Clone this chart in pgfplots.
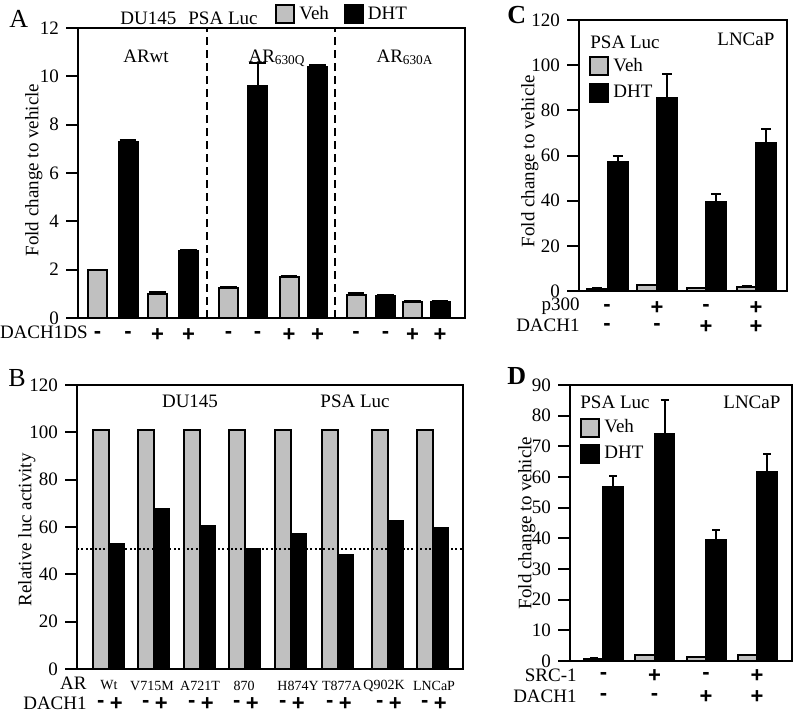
\documentclass[border=0pt]{standalone}
\usepackage{pgfplots}
\pgfplotsset{compat=1.18}
\usepackage{fontspec}
\setmainfont{Liberation Serif}
\newfontfamily\signfont{Liberation Sans}
\newcommand{\sgn}[1]{{\signfont\bfseries\fontsize{11}{12}\selectfont #1}}
\newcommand{\fs}{\fontsize{9.5}{11}\selectfont}
\definecolor{vehgray}{RGB}{192,192,192}

\pgfplotsset{
 panel/.style={
  scale only axis, anchor=south west,
  font=\fs,
  axis line style={line width=1pt},
  tick align=outside, major tick length=6pt,
  every tick/.style={black, line width=1pt},
  xtick style={draw=none},
  ytick pos=left,
  /pgf/number format/assume math mode=true,
  xticklabel style={anchor=center},
  error bars/y dir=plus, error bars/y explicit,
  error bars/error bar style={line width=1pt, black},
  legend cell align=left,
  legend image code/.code={\draw[##1, line width=1pt] (0pt,-4.5pt) rectangle (9pt,4.5pt);},
 },
 vehbar/.style={ybar, bar shift=0pt, fill=vehgray, draw=black, line width=1pt},
 dhtbar/.style={ybar, bar shift=0pt, fill=black, draw=black, line width=1pt},
}

\begin{document}
\begin{tikzpicture}
\begin{scope}[x=0.5pt,y=-0.5pt]
\path[use as bounding box] (0,0) rectangle (800,719);
\end{scope}

% ---------------- Panel A ----------------
\begin{axis}[panel, at={(39pt,-159pt)}, width=193.5pt, height=145pt,
 xmin=78, xmax=465, ymin=0, ymax=12, ytick={0,2,...,12},
 xtick={97.5,128,157.5,188.5,228.5,257.5,289,317.5,356,385.5,412.5,440},
 xticklabels={\sgn{-},\sgn{-},\sgn{+},\sgn{+},\sgn{-},\sgn{-},\sgn{+},\sgn{+},\sgn{-},\sgn{-},\sgn{+},\sgn{+}},
 xticklabel style={yshift=-2.5pt},
 ylabel={Fold change to vehicle},
 ylabel style={at={(axis description cs:-0.114,0.51)}, anchor=center},
 error bars/error mark options={rotate=90, line width=1pt, mark size=4.2pt},
 legend style={draw=none, fill=none, at={(axis description cs:0.509,1.047)}, anchor=west,
   legend columns=-1, inner sep=0pt, /tikz/every even column/.append style={column sep=5.5pt}},
]
\addplot[vehbar, bar width=19] coordinates {
 (97.5,1.97) +- (0,0.01) (157.5,1.0) +- (0,0.07) (228.5,1.25) +- (0,0.03)
 (289,1.7) +- (0,0.03) (356,0.97) +- (0,0.08) (412.5,0.67) +- (0,0.02)};
\addlegendentry{Veh}
\addplot[dhtbar, bar width=19] coordinates {
 (128,7.3) +- (0,0.06) (188.5,2.78) +- (0,0.03) (257.5,9.62) +- (0,0.93)
 (317.5,10.38) +- (0,0.08) (385.5,0.9) +- (0,0.04) (440,0.67) +- (0,0.03)};
\addlegendentry{DHT}
\addplot[forget plot, black, line width=1pt, dash pattern=on 4pt off 2.5pt] coordinates {(207,0) (207,12)};
\addplot[forget plot, black, line width=1pt, dash pattern=on 4pt off 2.5pt] coordinates {(335,0) (335,12)};
\end{axis}

% ---------------- Panel B ----------------
\begin{axis}[panel, at={(38.5pt,-334.5pt)}, width=193pt, height=142pt,
 xmin=77, xmax=463, ymin=0, ymax=120, ytick={0,20,...,120},
 xtick={100.75,116.25,145.75,161.25,191.75,207.25,236.75,252.25,282.75,298.25,329.75,345.25,379.75,395.25,424.75,440.25},
 xticklabels={\sgn{-},\sgn{+},\sgn{-},\sgn{+},\sgn{-},\sgn{+},\sgn{-},\sgn{+},\sgn{-},\sgn{+},\sgn{-},\sgn{+},\sgn{-},\sgn{+},\sgn{-},\sgn{+}},
 xticklabel style={yshift=-11.5pt},
 extra x ticks={109,152,200,244,298,342,384,434},
 extra x tick labels={Wt,V715M,A721T,870,H874Y,T877A,Q902K,LNCaP},
 extra x tick style={tick style={draw=none}, xticklabel style={yshift=9.25pt, font=\fontsize{7}{9}\selectfont}},
 ylabel={Relative luc activity},
 ylabel style={at={(axis description cs:-0.13,0.49)}, anchor=center},
]
\addplot[vehbar, bar width=15.5] coordinates {
 (100.75,101) (145.75,101) (191.75,101) (236.75,101) (282.75,101) (329.75,101) (379.75,101) (424.75,101)};
\addplot[dhtbar, bar width=15.5] coordinates {
 (116.25,52.7) (161.25,67.5) (207.25,60.4) (252.25,50.8) (298.25,57.0) (345.25,48.2) (395.25,62.5) (440.25,59.7)};
\addplot[forget plot, black, line width=1pt, dash pattern=on 1pt off 1.2pt] coordinates {(77,50.6) (463,50.6)};
\end{axis}

% ---------------- Panel C ----------------
\begin{axis}[panel, at={(289.5pt,-145.5pt)}, width=104pt, height=135.5pt,
 xmin=579, xmax=787, ymin=0, ymax=120, ytick={0,20,...,120},
 xtick={607,657,706,756}, xticklabels={\sgn{-},\sgn{+},\sgn{-},\sgn{+}},
 xticklabel style={yshift=-2.5pt},
 extra x ticks={607,657,706,756}, extra x tick labels={\sgn{-},\sgn{-},\sgn{+},\sgn{+}},
 extra x tick style={tick style={draw=none}, xticklabel style={yshift=-9.5pt}},
 ylabel={Fold change to vehicle},
 ylabel style={at={(axis description cs:-0.236,0.48)}, anchor=center},
 error bars/error mark options={rotate=90, line width=1pt, mark size=2.5pt},
 legend style={draw=none, fill=none, at={(axis description cs:0.048,0.875)}, anchor=north west,
   inner sep=0pt, row sep=1.5pt},
]
\addplot[vehbar, bar width=20] coordinates {
 (597,1.0) +- (0,0.3) (646.5,2.5) +- (0,0.3) (696.5,1.3) +- (0,0.2) (746.5,1.8) +- (0,0.3)};
\addlegendentry{Veh}
\addplot[dhtbar, bar width=20] coordinates {
 (617.5,57) +- (0,3) (667,85.3) +- (0,11) (716,39.5) +- (0,3.5) (766,65.6) +- (0,6)};
\addlegendentry{DHT}
\end{axis}

% ---------------- Panel D ----------------
\begin{axis}[panel, at={(285pt,-330.5pt)}, width=111pt, height=138pt,
 xmin=570, xmax=792, ymin=0, ymax=90, ytick={0,10,...,90},
 xtick={603.5,654.5,706,757}, xticklabels={\sgn{-},\sgn{+},\sgn{-},\sgn{+}},
 xticklabel style={yshift=-1.5pt},
 extra x ticks={603.5,654.5,706,757}, extra x tick labels={\sgn{-},\sgn{-},\sgn{+},\sgn{+}},
 extra x tick style={tick style={draw=none}, xticklabel style={yshift=-10.5pt}},
 ylabel={Fold change to vehicle},
 ylabel style={at={(axis description cs:-0.194,0.5)}, anchor=center},
 error bars/error mark options={rotate=90, line width=1pt, mark size=2pt},
 legend style={draw=none, fill=none, at={(axis description cs:0.045,0.89)}, anchor=north west,
   inner sep=0pt, row sep=1pt},
]
\addplot[vehbar, bar width=19.5] coordinates {
 (594,0.8) +- (0,0.2) (645,1.9) +- (0,0.2) (696.5,1.2) +- (0,0.2) (747.5,1.8) +- (0,0.2)};
\addlegendentry{Veh}
\addplot[dhtbar, bar width=19.5] coordinates {
 (613,56.8) +- (0,3.4) (664.5,74) +- (0,11) (716,39.4) +- (0,3.3) (767,61.5) +- (0,6)};
\addlegendentry{DHT}
\end{axis}

% ---------------- Texts ----------------
\begin{scope}[x=0.5pt,y=-0.5pt, every node/.style={inner sep=0pt, font=\fs}]
\node[anchor=base west, font=\fontsize{13}{15}\selectfont] at (9,27) {A};
\node[anchor=base west] at (120,24) {DU145};
\node[anchor=base west] at (188,24) {PSA Luc};
\node[anchor=base] at (146,62) {ARwt};
\node[anchor=base] at (277,62) {AR\textsubscript{630Q}};
\node[anchor=base] at (405,62) {AR\textsubscript{630A}};
\node[anchor=base east] at (88,339) {DACH1DS};

\node[anchor=base west, font=\fontsize{13}{15}\selectfont] at (8,387) {B};
\node[anchor=base] at (190,408) {DU145};
\node[anchor=base] at (355,408) {PSA Luc};
\node[anchor=base east] at (87,690) {AR};
\node[anchor=base east] at (87,710) {DACH1};

\node[anchor=base west, font=\fontsize{13}{15}\selectfont\bfseries] at (507,23) {C};
\node[anchor=base west] at (590,48) {PSA Luc};
\node[anchor=base west] at (717,45) {LNCaP};
\node[anchor=base east] at (580,311) {p300};
\node[anchor=base east] at (580,332) {DACH1};

\node[anchor=base west, font=\fontsize{13}{15}\selectfont\bfseries] at (507,385) {D};
\node[anchor=base west] at (580,409) {PSA Luc};
\node[anchor=base west] at (723,409) {LNCaP};
\node[anchor=base east] at (577,682) {SRC-1};
\node[anchor=base east] at (577,703) {DACH1};
\end{scope}
\end{tikzpicture}
\end{document}
